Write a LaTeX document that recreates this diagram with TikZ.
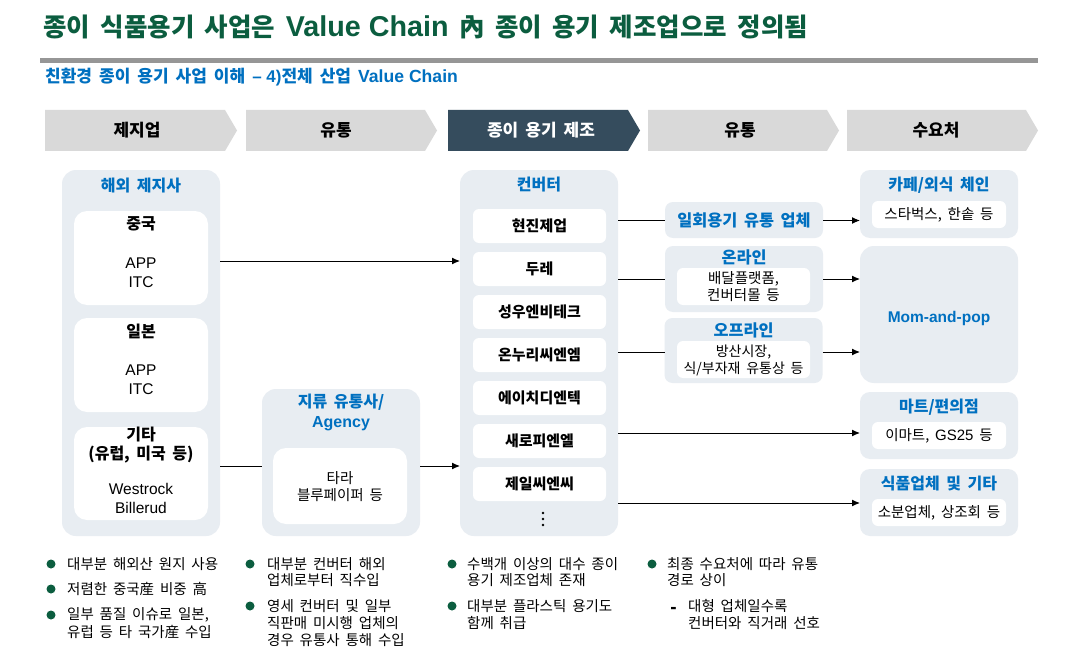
\documentclass[tikz,border=0pt]{standalone}
\usepackage{fontspec}
\setmainfont{Noto Sans CJK KR}[WordSpace=1.8]
\newfontfamily\lat{Liberation Sans}
\usetikzlibrary{arrows.meta}
\definecolor{tgreen}{HTML}{0B5D3F}
\definecolor{tblue}{HTML}{0070C0}
\definecolor{panelc}{HTML}{E8EDF2}
\definecolor{chevc}{HTML}{D9D9D9}
\definecolor{chevd}{HTML}{354C5D}
\definecolor{rulec}{HTML}{969696}
\newcommand\myfs[2]{\fontsize{#1}{#2}\selectfont}
\begin{document}
\begin{tikzpicture}[x=1pt,y=-1pt,
  pan/.style={rectangle, fill=panelc, rounded corners=14pt, inner sep=0pt, outer sep=0pt},
  span/.style={rectangle, fill=panelc, rounded corners=8pt, inner sep=0pt, outer sep=0pt},
  wht/.style={rectangle, fill=white, rounded corners=13pt, inner sep=0pt, outer sep=0pt},
  swht/.style={rectangle, fill=white, rounded corners=6pt, inner sep=0pt, outer sep=0pt},
  hd/.style={inner sep=0pt, font=\bfseries\myfs{17}{19}},
  btitle/.style={inner sep=0pt, text=tblue, align=center, font=\bfseries\myfs{16}{20}},
  bk/.style={inner sep=0pt, align=center, font=\bfseries\myfs{16}{19}},
  cv/.style={inner sep=0pt, font=\bfseries\myfs{15}{17}},
  lt/.style={inner sep=0pt, align=center, font=\lat\myfs{15.5}{19}},
  tx/.style={inner sep=0pt, align=center, font=\myfs{14.5}{17}},
  bl/.style={inner sep=0pt, anchor=west, font=\myfs{14.5}{17}},
  dot/.style={circle, fill=tgreen, inner sep=0pt, minimum size=9pt},
  conn/.style={draw=black, line width=1pt},
  arr/.style={conn, -{Latex[length=8pt,width=7pt]}}
]
\useasboundingbox (0,0) rectangle (1084,658);
\fill[white] (0,0) rectangle (1084,658);

% title
\node[anchor=west, inner sep=0pt, text=tgreen, font=\bfseries\myfs{25.5}{28}] (title) at (43,27)
  {종이 식품용기 사업은 {\lat\myfs{28.7}{28}Value Chain} 內 종이 용기 제조업으로 정의됨};
\draw[rulec, line width=5pt] (40,60.5) -- (1038,60.5);
\node[anchor=west, inner sep=0pt, text=tblue, font=\bfseries\myfs{17}{19}] (sub) at (45,77)
  {친환경 종이 용기 사업 이해 {\lat\myfs{17}{19}– 4)}전체 산업 {\lat\myfs{17.6}{19}Value Chain}};

% header chevrons
\fill[chevc] (45,110) -- (225,110) -- (237,130.5) -- (225,151) -- (45,151) -- cycle;
\node[hd] (h1) at (137,130.5) {제지업};
\fill[chevc] (246,110) -- (425,110) -- (437,130.5) -- (425,151) -- (246,151) -- cycle;
\node[hd] (h2) at (336,130.5) {유통};
\fill[chevd] (448,110) -- (628,110) -- (640,130.5) -- (628,151) -- (448,151) -- cycle;
\node[hd, text=white] (h3) at (541,130.5) {종이 용기 제조};
\fill[chevc] (648,110) -- (827,110) -- (839,130.5) -- (827,151) -- (648,151) -- cycle;
\node[hd] (h4) at (740,130.5) {유통};
\fill[chevc] (847,110) -- (1026,110) -- (1038,130.5) -- (1026,151) -- (847,151) -- cycle;
\node[hd] (h5) at (936,130.5) {수요처};

% column 1: paper mills
\node[pan, minimum width=158pt, minimum height=366pt] (mill) at (141,353) {};
\node[btitle] (millt) at (141,186) {해외 제지사};
\node[wht, minimum width=134pt, minimum height=94pt] (cn) at (141,258) {};
\node[bk] (cnt) at (141,224) {중국};
\node[lt] (cnc) at (141,272.5) {APP\\ITC};
\node[wht, minimum width=134pt, minimum height=94pt] (jp) at (141,365) {};
\node[bk] (jpt) at (141,331) {일본};
\node[lt] (jpc) at (141,380) {APP\\ITC};
\node[wht, minimum width=134pt, minimum height=93pt] (et) at (141,473.5) {};
\node[bk] (ett) at (141,445.5) {기타\\(유럽, 미국 등)};
\node[lt] (etc) at (141,498.5) {Westrock\\Billerud};

% column 2: agency
\node[pan, minimum width=158pt, minimum height=147pt] (ag) at (341,462.5) {};
\node[btitle] (agt) at (341,412) {지류 유통사/\\{\lat\myfs{16}{20}Agency}};
\node[wht, minimum width=134pt, minimum height=76pt] (agi) at (340,486) {};
\node[tx] (agc) at (340,486.5) {타라\\블루페이퍼 등};

% column 3: converters
\node[pan, minimum width=158pt, minimum height=366pt] (conv) at (539,353) {};
\node[btitle] (convt) at (539,185) {컨버터};
\node[swht, minimum width=133pt, minimum height=34pt] (c1) at (539.5,226) {};
\node[cv] at (c1) {현진제업};
\node[swht, minimum width=133pt, minimum height=34pt] (c2) at (539.5,269) {};
\node[cv] at (c2) {두레};
\node[swht, minimum width=133pt, minimum height=34pt] (c3) at (539.5,312) {};
\node[cv] at (c3) {성우엔비테크};
\node[swht, minimum width=133pt, minimum height=34pt] (c4) at (539.5,355) {};
\node[cv] at (c4) {온누리씨엔엠};
\node[swht, minimum width=133pt, minimum height=34pt] (c5) at (539.5,398) {};
\node[cv] at (c5) {에이치디엔텍};
\node[swht, minimum width=133pt, minimum height=34pt] (c6) at (539.5,441) {};
\node[cv] at (c6) {새로피엔엘};
\node[swht, minimum width=133pt, minimum height=34pt] (c7) at (539.5,484) {};
\node[cv] at (c7) {제일씨엔씨};
\fill (543,513) circle (1.3) (543,519) circle (1.3) (543,525) circle (1.3);

% column 4: distribution
\node[span, minimum width=158pt, minimum height=36pt] (one) at (744,220) {};
\node[btitle, font=\bfseries\myfs{16.3}{20}] at (one) {일회용기 유통 업체};
\node[span, minimum width=158pt, minimum height=66pt] (onl) at (744,279) {};
\node[btitle, font=\bfseries\myfs{16.3}{20}] at (744,257) {온라인};
\node[swht, minimum width=133pt, minimum height=37pt] (onli) at (743.5,286.5) {};
\node[tx] at (743.5,287) {배달플랫폼,\\컨버터몰 등};
\node[span, minimum width=158pt, minimum height=65pt] (off) at (743.5,350.5) {};
\node[btitle, font=\bfseries\myfs{16.3}{20}] at (743.5,330) {오프라인};
\node[swht, minimum width=133pt, minimum height=37pt] (offi) at (743.5,359.5) {};
\node[tx, font=\myfs{14}{16.5}] at (743.5,360.5) {방산시장,\\식/부자재 유통상 등};

% column 5: demand
\node[span, rounded corners=10pt, minimum width=158pt, minimum height=68pt] (cafe) at (939,204) {};
\node[btitle] at (939,185) {카페/외식 체인};
\node[swht, minimum width=134pt, minimum height=27pt] (cafei) at (939,214.5) {};
\node[tx] at (cafei) {스타벅스, 한솥 등};
\node[pan, minimum width=158pt, minimum height=137pt] (mom) at (939,314.5) {};
\node[inner sep=0pt, text=tblue, font=\lat\bfseries\myfs{15.5}{19}] at (939,318) {Mom-and-pop};
\node[span, rounded corners=10pt, minimum width=158pt, minimum height=67pt] (mart) at (939,425.5) {};
\node[btitle] at (939,407) {마트/편의점};
\node[swht, minimum width=134pt, minimum height=27pt] (marti) at (939,435.5) {};
\node[tx] at (marti) {이마트, {\lat\myfs{15}{17}GS25} 등};
\node[span, rounded corners=10pt, minimum width=158pt, minimum height=67pt] (food) at (939,502.5) {};
\node[btitle] at (939,484) {식품업체 및 기타};
\node[swht, minimum width=134pt, minimum height=27pt] (foodi) at (939,512.5) {};
\node[tx] at (foodi) {소분업체, 상조회 등};

% connectors
\coordinate (ycn) at (0,261);
\coordinate (yet) at (0,466);
\coordinate (yone) at (0,220.5);
\coordinate (yonl) at (0,279);
\coordinate (yoff) at (0,352);
\coordinate (ymart) at (0,433);
\coordinate (yfood) at (0,503);
\draw[arr] (mill.east |- ycn) -- (conv.west |- ycn);
\draw[conn] (mill.east |- yet) -- (ag.west |- yet);
\draw[arr] (ag.east |- yet) -- (conv.west |- yet);
\draw[conn] (conv.east |- yone) -- (one.west |- yone);
\draw[arr] (one.east |- yone) -- (cafe.west |- yone);
\draw[conn] (conv.east |- yonl) -- (onl.west |- yonl);
\draw[arr] (onl.east |- yonl) -- (mom.west |- yonl);
\draw[conn] (conv.east |- yoff) -- (off.west |- yoff);
\draw[arr] (off.east |- yoff) -- (mom.west |- yoff);
\draw[arr] (conv.east |- ymart) -- (mart.west |- ymart);
\draw[arr] (conv.east |- yfood) -- (food.west |- yfood);

% bullets
\node[dot] at (51,564) {};
\node[bl] at (67,564) {대부분 해외산 원지 사용};
\node[dot] at (51,589) {};
\node[bl] at (67,589) {저렴한 중국産 비중 高};
\node[dot] at (51,615) {};
\node[bl] at (67,615) {일부 품질 이슈로 일본,};
\node[bl] at (67,632) {유럽 등 타 국가産 수입};

\node[dot] at (250,564) {};
\node[bl] at (267,564) {대부분 컨버터 해외};
\node[bl] at (267,580.5) {업체로부터 직수입};
\node[dot] at (250,606) {};
\node[bl] at (267,606) {영세 컨버터 및 일부};
\node[bl] at (267,623) {직판매 미시행 업체의};
\node[bl] at (267,640) {경우 유통사 통해 수입};

\node[dot] at (452,564) {};
\node[bl] at (467,564) {수백개 이상의 대수 종이};
\node[bl] at (467,580.5) {용기 제조업체 존재};
\node[dot] at (452,606) {};
\node[bl] at (467,606) {대부분 플라스틱 용기도};
\node[bl] at (467,623) {함께 취급};

\node[dot] at (652,564) {};
\node[bl] at (667,564) {최종 수요처에 따라 유통};
\node[bl] at (667,580.5) {경로 상이};
\node[inner sep=0pt, anchor=center, font=\lat\bfseries\myfs{19}{19}] at (673.5,610) {-};
\node[bl] at (688,606) {대형 업체일수록};
\node[bl] at (688,623) {컨버터와 직거래 선호};
\end{tikzpicture}
\end{document}
